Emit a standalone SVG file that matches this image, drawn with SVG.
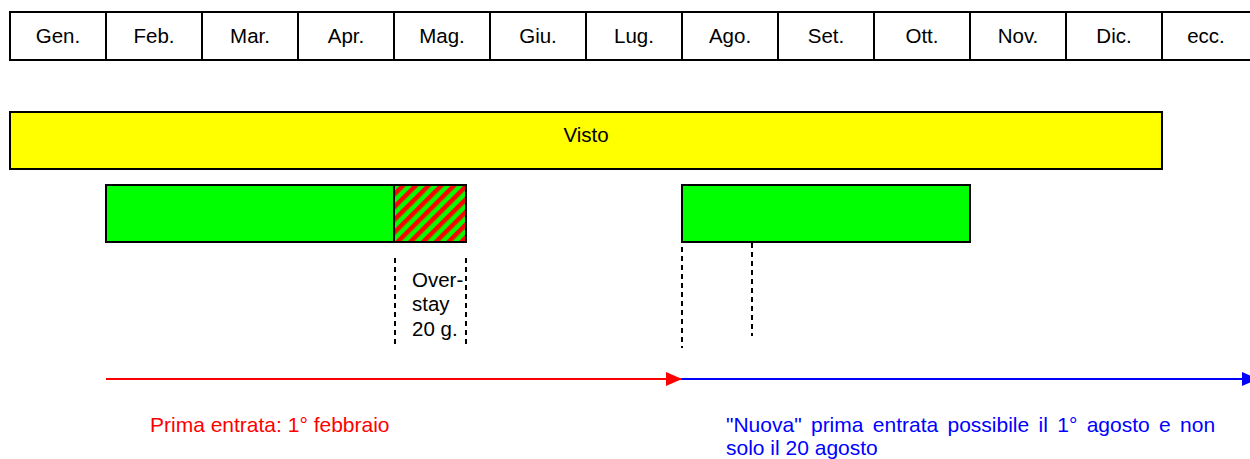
<svg xmlns="http://www.w3.org/2000/svg" width="1250" height="459" viewBox="0 0 1250 459">
<style>
  text { font-family: "Liberation Sans", Arial, sans-serif; font-size: 20.5px; fill: #000; }
  .cell { fill: #fff; stroke: #000; stroke-width: 2; }
  .bar { stroke: #000; stroke-width: 2; }
  .dash { stroke: #000; stroke-width: 2; stroke-dasharray: 5 4; fill: none; }
  .mid { text-anchor: middle; }
</style>
<defs>
  <pattern id="hatch" width="9" height="9" patternUnits="userSpaceOnUse" patternTransform="rotate(45)">
    <rect width="9" height="9" fill="#00ff00"/>
    <rect width="4.5" height="9" fill="#ff0000"/>
  </pattern>
  <marker id="arrRed" markerWidth="16" markerHeight="14" refX="16" refY="7" orient="auto" markerUnits="userSpaceOnUse">
    <path d="M0,0 L16,7 L0,14 Z" fill="#ff0000"/>
  </marker>
  <marker id="arrBlue" markerWidth="16" markerHeight="14" refX="16" refY="7" orient="auto" markerUnits="userSpaceOnUse">
    <path d="M0,0 L16,7 L0,14 Z" fill="#0000ff"/>
  </marker>
</defs>

<g id="months">
  <rect class="cell" x="10" y="12" width="96" height="48"/>
  <rect class="cell" x="106" y="12" width="96" height="48"/>
  <rect class="cell" x="202" y="12" width="96" height="48"/>
  <rect class="cell" x="298" y="12" width="96" height="48"/>
  <rect class="cell" x="394" y="12" width="96" height="48"/>
  <rect class="cell" x="490" y="12" width="96" height="48"/>
  <rect class="cell" x="586" y="12" width="96" height="48"/>
  <rect class="cell" x="682" y="12" width="96" height="48"/>
  <rect class="cell" x="778" y="12" width="96" height="48"/>
  <rect class="cell" x="874" y="12" width="96" height="48"/>
  <rect class="cell" x="970" y="12" width="96" height="48"/>
  <rect class="cell" x="1066" y="12" width="96" height="48"/>
  <rect class="cell" x="1162" y="12" width="96" height="48"/>
  <text class="mid" x="58" y="43">Gen.</text>
  <text class="mid" x="154" y="43">Feb.</text>
  <text class="mid" x="250" y="43">Mar.</text>
  <text class="mid" x="346" y="43">Apr.</text>
  <text class="mid" x="442" y="43">Mag.</text>
  <text class="mid" x="538" y="43">Giu.</text>
  <text class="mid" x="634" y="43">Lug.</text>
  <text class="mid" x="730" y="43">Ago.</text>
  <text class="mid" x="826" y="43">Set.</text>
  <text class="mid" x="922" y="43">Ott.</text>
  <text class="mid" x="1018" y="43">Nov.</text>
  <text class="mid" x="1114" y="43">Dic.</text>
  <text class="mid" x="1206" y="43">ecc.</text>
</g>

<g id="visto">
  <rect class="bar" x="10" y="112" width="1152" height="57" fill="#ffff00"/>
  <text class="mid" x="586" y="142">Visto</text>
</g>

<g id="stay1">
  <rect class="bar" x="106" y="185" width="288" height="57" fill="#00ff00"/>
</g>
<g id="overstay">
  <rect class="bar" x="394" y="185" width="72" height="57" fill="url(#hatch)"/>
  <text x="412" y="287">Over-</text>
  <text x="412" y="311">stay</text>
  <text x="412" y="336">20 g.</text>
</g>
<g id="stay2">
  <rect class="bar" x="682" y="185" width="288" height="57" fill="#00ff00"/>
</g>

<g id="connectors">
  <line class="dash" x1="395" y1="258" x2="395" y2="348"/>
  <line class="dash" x1="466" y1="258" x2="466" y2="348"/>
  <line class="dash" x1="682" y1="247" x2="682" y2="348"/>
  <line class="dash" x1="752" y1="243" x2="752" y2="336"/>
  <line x1="106" y1="379" x2="682" y2="379" stroke="#ff0000" stroke-width="2" marker-end="url(#arrRed)"/>
  <line x1="682" y1="379" x2="1258" y2="379" stroke="#0000ff" stroke-width="2" marker-end="url(#arrBlue)"/>
</g>

<g id="labels">
  <text x="150" y="432" style="fill:#ff0000; font-size:21px">Prima entrata: 1° febbraio</text>
  <text x="726" y="432" style="fill:#0000ff; font-size:21px" word-spacing="3.5">"Nuova" prima entrata possibile il 1° agosto e non</text>
  <text x="726" y="455" style="fill:#0000ff; font-size:21px">solo il 20 agosto</text>
</g>
</svg>
